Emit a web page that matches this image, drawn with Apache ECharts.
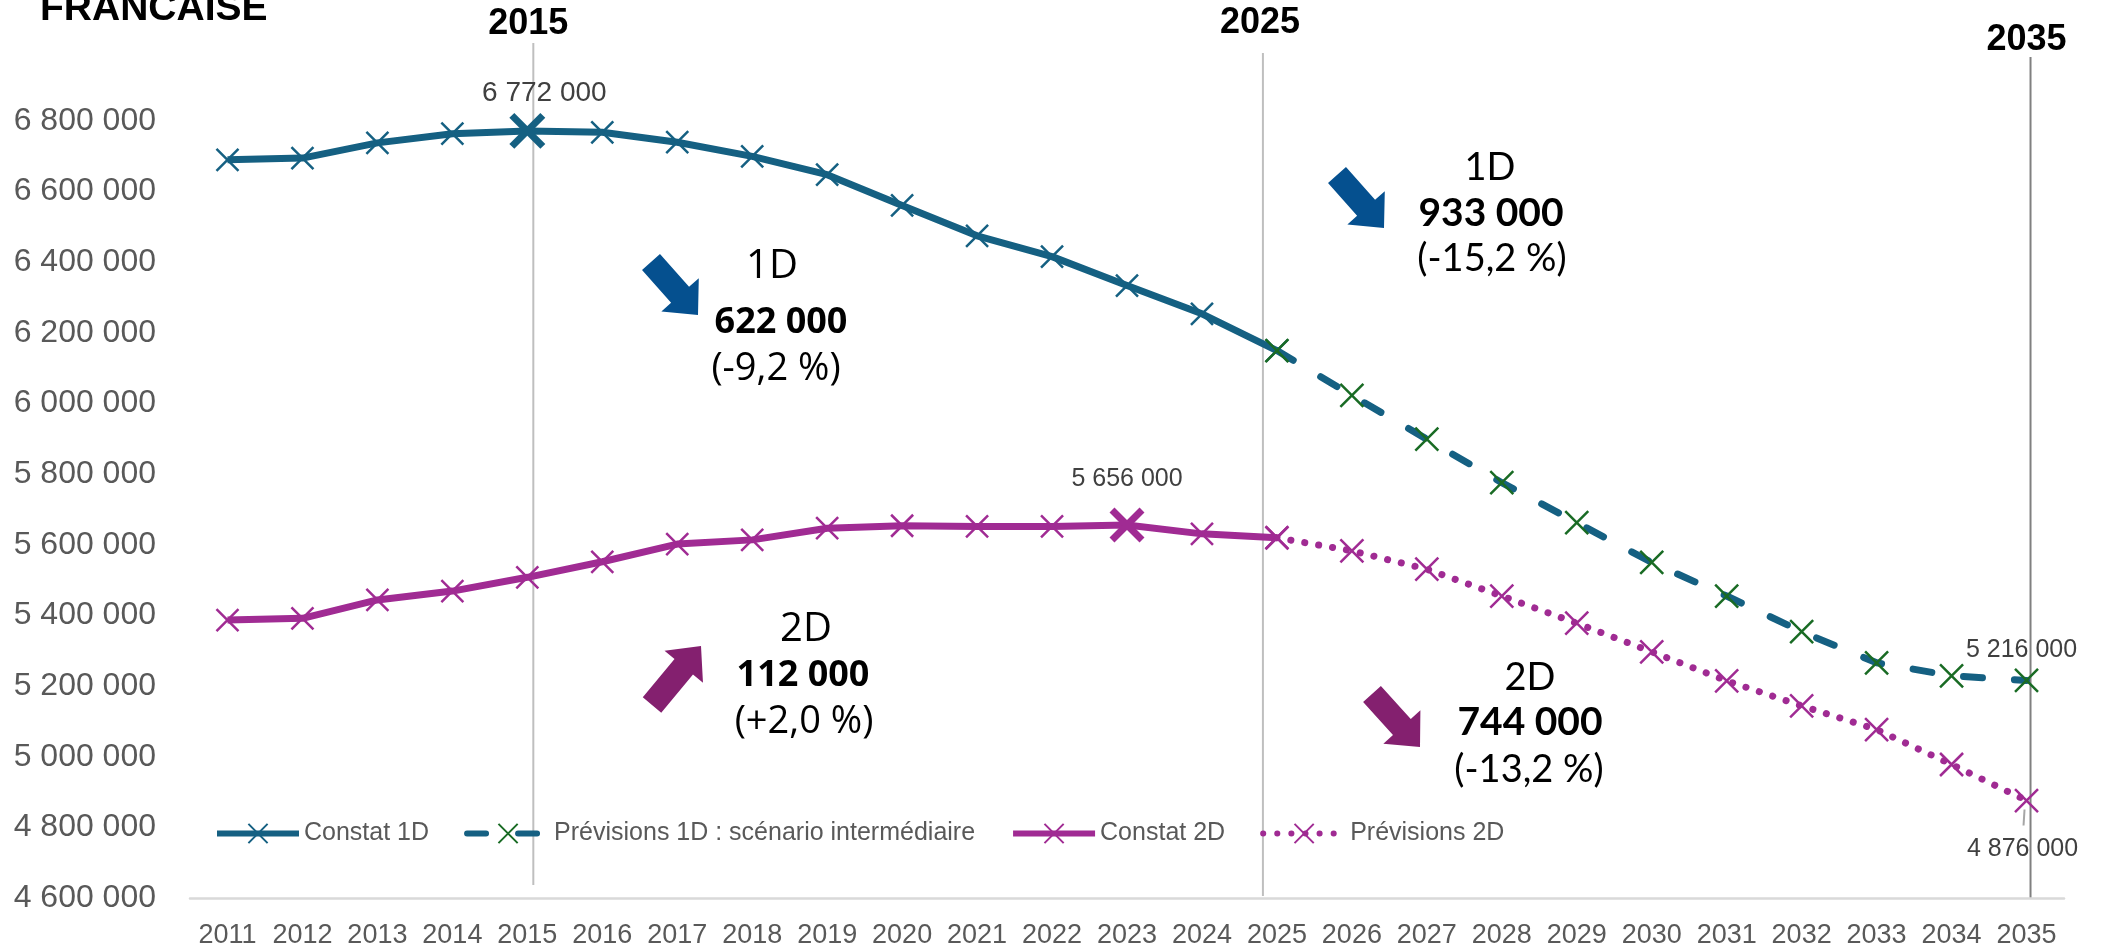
<!DOCTYPE html>
<html lang="fr">

<head>
    <meta charset="UTF-8">
    <script src="https://cdn.jsdelivr.net/npm/echarts@6/dist/echarts.min.js"></script>
    <title>Effectifs 1D / 2D</title>
    <style>
        html, body { margin: 0; padding: 0; background: #fff; }
    </style>
</head>

<body>
    <div id="main" style="width: 2102px; height: 952px;"></div>

    <script>
        // data
        var years = ['2011', '2012', '2013', '2014', '2015', '2016', '2017', '2018', '2019', '2020', '2021', '2022',
            '2023', '2024', '2025', '2026', '2027', '2028', '2029', '2030', '2031', '2032', '2033', '2034', '2035'];
        var constat1D = [6690000, 6695000, 6738000, 6764000, 6772000, 6768000, 6740000, 6700000, 6648000, 6561000,
            6475000, 6416000, 6334000, 6254000, 6150000];                // 2011 -> 2025
        var prev1D = [6150000, 6023000, 5899000, 5776000, 5663000, 5550000, 5455000, 5354000, 5266000, 5229000,
            5216000];                                                    // 2025 -> 2035
        var constat2D = [5387000, 5392000, 5444000, 5469000, 5508000, 5552000, 5602000, 5614000, 5647000, 5654000,
            5652000, 5652000, 5656000, 5631000, 5620000];                // 2011 -> 2025
        var prev2D = [5620000, 5583000, 5531000, 5455000, 5378000, 5297000, 5215000, 5144000, 5077000, 4978000,
            4876000];                                                    // 2025 -> 2035
        var yMin = 4600000, yMax = 6800000, yStep = 200000;

        var BLUE = '#156082', GREEN = '#196B24', PURPLE = '#A02B93';
        var CROSS = 'path://M0,0L20,20M20,0L0,20';
        var FONT = '"Liberation Sans", Arial, sans-serif';

        function fmt(v) {
            return String(v).replace(/\B(?=(\d{3})+(?!\d))/g, ' ');
        }
        function valueLabel(pos, offset, size) {
            return {
                show: true, position: pos, offset: offset,
                color: '#404040', fontSize: size || 25, fontFamily: FONT,
                formatter: function (p) { return fmt(p.value); }
            };
        }

        // observed series end at 2025, forecasts start at 2025
        var nFc = years.length - constat1D.length;
        var nObs = years.length - prev1D.length;
        var d1 = constat1D.concat(new Array(nFc).fill('-'));
        var d1p = new Array(nObs).fill('-').concat(prev1D);
        var d2 = constat2D.concat(new Array(nFc).fill('-'));
        var d2p = new Array(nObs).fill('-').concat(prev2D);

        // highlighted points
        d1[4] = { value: d1[4], symbolSize: 31, itemStyle: { borderWidth: 7 }, label: valueLabel('top', [17, 0], 28) };
        d2[12] = { value: d2[12], symbolSize: 30, itemStyle: { borderWidth: 7 }, label: valueLabel('top', [0, -10]) };
        d1p[24] = { value: d1p[24], label: valueLabel('top', [-5, 0]) };
        d2p[24] = { value: d2p[24], label: valueLabel('bottom', [-4, 18]) };

        var chartDom = document.getElementById('main');
        var myChart = echarts.init(chartDom);
        var option = {
            animation: false,
            backgroundColor: '#fff',
            grid: { left: 190, right: 38, top: 121, bottom: 54 },
            legend: {
                left: 214,
                top: 821,
                padding: 0,
                itemWidth: 82,
                itemHeight: 24,
                itemGap: 35,
                selectedMode: false,
                lineStyle: { width: 6 },
                textStyle: { color: '#595959', fontSize: 25, fontFamily: FONT }
            },
            xAxis: {
                type: 'category',
                data: years,
                axisTick: { show: false },
                axisLine: { lineStyle: { color: '#d9d9d9', width: 2.5 } },
                axisLabel: { interval: 0, color: '#595959', fontSize: 27, fontFamily: FONT, margin: 24 }
            },
            yAxis: {
                type: 'value',
                min: yMin,
                max: yMax,
                interval: yStep,
                splitLine: { show: false },
                axisLine: { show: false },
                axisTick: { show: false },
                axisLabel: { color: '#595959', fontSize: 32, fontFamily: FONT, margin: 34, formatter: fmt }
            },
            series: [
                {
                    name: 'Constat 1D', type: 'line', data: d1,
                    symbol: CROSS, symbolSize: 22,
                    lineStyle: { color: BLUE, width: 7 },
                    itemStyle: { color: BLUE, borderColor: BLUE, borderWidth: 2.5 }
                },
                {
                    name: 'Prévisions 1D : scénario intermédiaire', type: 'line', data: d1p,
                    symbol: CROSS, symbolSize: 23,
                    lineStyle: { color: BLUE, width: 7, type: [19, 32], cap: 'round' },
                    itemStyle: { color: GREEN, borderColor: GREEN, borderWidth: 2.5 }
                },
                {
                    name: 'Constat 2D', type: 'line', data: d2,
                    symbol: CROSS, symbolSize: 22,
                    lineStyle: { color: PURPLE, width: 7 },
                    itemStyle: { color: PURPLE, borderColor: PURPLE, borderWidth: 2.5 }
                },
                {
                    name: 'Prévisions 2D', type: 'line', data: d2p,
                    symbol: CROSS, symbolSize: 23,
                    lineStyle: { color: PURPLE, width: 7, type: [0.1, 14], cap: 'round' },
                    itemStyle: { color: PURPLE, borderColor: PURPLE, borderWidth: 2.5 }
                }
            ]
        };
        myChart.setOption(option);

        // annotations: reference lines, year tags, arrows and text boxes
        function xOf(year) {
            return myChart.convertToPixel({ xAxisIndex: 0 }, year);
        }
        function vline(x, y0, y1, color) {
            return { type: 'line', silent: true, shape: { x1: x, y1: y0, x2: x, y2: y1 }, style: { stroke: color, lineWidth: 2 } };
        }
        function text(str, x, y, font) {
            return {
                type: 'text', silent: true, x: x, y: y,
                style: { text: str, font: font, fill: '#000', align: 'center', verticalAlign: 'middle' }
            };
        }
        function arrow(x0, y0, x1, y1, color) {
            var shaftW = 24, headW = 50, headL = 27;
            var dx = x1 - x0, dy = y1 - y0, len = Math.sqrt(dx * dx + dy * dy);
            var ux = dx / len, uy = dy / len, nx = -uy, ny = ux;
            var bx = x1 - ux * headL, by = y1 - uy * headL;
            return {
                type: 'polygon', silent: true,
                shape: {
                    points: [
                        [x0 + nx * shaftW / 2, y0 + ny * shaftW / 2],
                        [bx + nx * shaftW / 2, by + ny * shaftW / 2],
                        [bx + nx * headW / 2, by + ny * headW / 2],
                        [x1, y1],
                        [bx - nx * headW / 2, by - ny * headW / 2],
                        [bx - nx * shaftW / 2, by - ny * shaftW / 2],
                        [x0 - nx * shaftW / 2, y0 - ny * shaftW / 2]
                    ]
                },
                style: { fill: color }
            };
        }

        var x15 = xOf('2015'), x25 = xOf('2025'), x35 = xOf('2035');
        var pEnd = myChart.convertToPixel({ seriesIndex: 3 }, ['2035', prev2D[prev2D.length - 1]]);
        var boldYear = 'bold 36px ' + FONT;
        var fA = '"Open Sans", sans-serif', fB = 'Lato, sans-serif';

        myChart.setOption({
            graphic: [
                {
                    type: 'text', silent: true, x: 40, y: 9,
                    style: { text: 'FRANCAISE', font: 'bold 39px ' + FONT, fill: '#000', verticalAlign: 'middle' }
                },
                vline(x15 + 6, 43, 885, '#bfbfbf'),
                vline(x25 - 14, 53, 896, '#bfbfbf'),
                vline(x35 + 4, 57, 898, '#808080'),
                text('2015', x15 + 1, 24, boldYear),
                text('2025', x25 - 17, 23, boldYear),
                text('2035', x35, 40, boldYear),
                // leader line of the last 2D label
                { type: 'line', silent: true, shape: { x1: pEnd[0] - 2, y1: pEnd[1] + 9, x2: pEnd[0] - 3, y2: pEnd[1] + 25 }, style: { stroke: '#a6a6a6', lineWidth: 2 } },

                arrow(651, 262, 698, 315, '#05508F'),
                text('1D', 772, 267, '40px ' + fA),
                text('622 000', 781, 323, 'bold 36px ' + fA),
                text('(-9,2 %)', 776, 369, '38px ' + fA),

                arrow(652, 705, 701, 646, '#84206F'),
                text('2D', 806, 630, '40px ' + fA),
                text('112 000', 803, 676, 'bold 36px ' + fA),
                text('(+2,0 %)', 804, 722, '38px ' + fA),

                arrow(1337, 175, 1384, 228, '#05508F'),
                text('1D', 1490, 168, '38px ' + fB),
                text('933 000', 1491, 213, 'bold 39px ' + fB),
                text('(-15,2 %)', 1492, 259, '38px ' + fB),

                arrow(1372, 694, 1420, 747, '#84206F'),
                text('2D', 1530, 678, '38px ' + fB),
                text('744 000', 1530, 722, 'bold 39px ' + fB),
                text('(-13,2 %)', 1529, 770, '38px ' + fB)
            ]
        });
    </script>
</body>

</html>
